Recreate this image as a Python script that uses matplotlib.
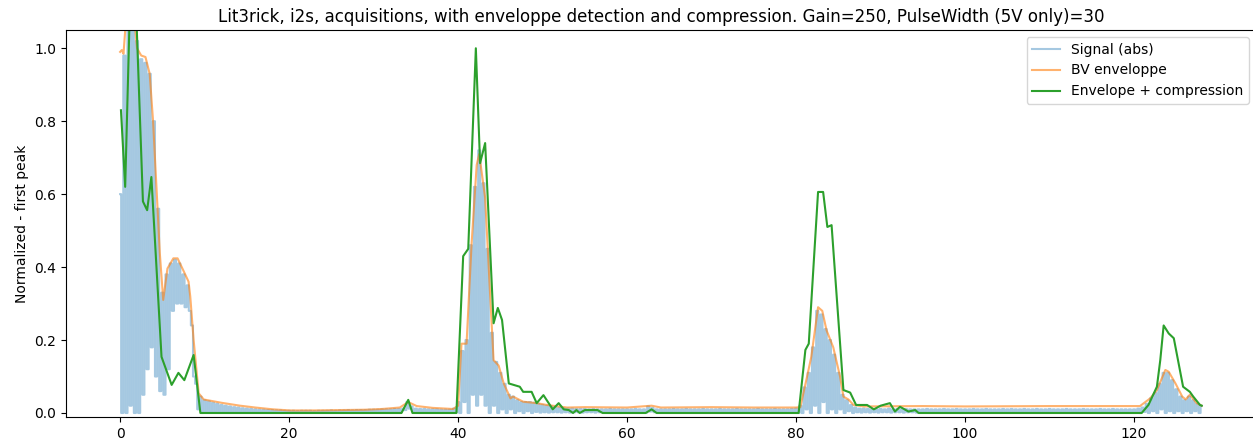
import numpy as np
import matplotlib
matplotlib.use("Agg")
import matplotlib.pyplot as plt

# raw signal, read as upper samples (x = 0, 0.5, ... 128)
sig_hi = [
    0.60, 0.98, 1.10, 1.10, 1.02, 0.97, 0.96, 0.93, 0.80, 0.56,
    0.33, 0.38, 0.41, 0.42, 0.41, 0.38, 0.35, 0.24, 0.08, 0.045,
    0.035, 0.032, 0.028, 0.025, 0.022, 0.020, 0.018, 0.016, 0.015, 0.013,
    0.012, 0.011, 0.010, 0.009, 0.009, 0.008, 0.008, 0.007, 0.007, 0.006,
    0.006, 0.006, 0.005, 0.006, 0.006, 0.006, 0.005, 0.006, 0.006, 0.006,
    0.007, 0.006, 0.007, 0.007, 0.008, 0.007, 0.008, 0.008, 0.008, 0.009,
    0.009, 0.009, 0.010, 0.010, 0.010, 0.011, 0.011, 0.012, 0.030, 0.018,
    0.012, 0.011, 0.011, 0.010, 0.010, 0.010, 0.009, 0.009, 0.009, 0.012,
    0.030, 0.170, 0.200, 0.460, 0.620, 0.720, 0.630, 0.450, 0.220, 0.140,
    0.110, 0.080, 0.050, 0.045, 0.035, 0.030, 0.030, 0.030, 0.028, 0.025,
    0.022, 0.020, 0.018, 0.016, 0.014, 0.013, 0.012, 0.012, 0.011, 0.011,
    0.011, 0.010, 0.011, 0.010, 0.010, 0.010, 0.011, 0.010, 0.010, 0.010,
    0.010, 0.010, 0.011, 0.010, 0.010, 0.018, 0.014, 0.010, 0.010, 0.010,
    0.010, 0.011, 0.010, 0.010, 0.011, 0.010, 0.010, 0.010, 0.011, 0.010,
    0.010, 0.010, 0.011, 0.010, 0.010, 0.010, 0.011, 0.010, 0.010, 0.010,
    0.010, 0.011, 0.010, 0.010, 0.010, 0.011, 0.010, 0.010, 0.010, 0.011,
    0.012, 0.020, 0.070, 0.110, 0.180, 0.280, 0.270, 0.230, 0.200, 0.160,
    0.110, 0.050, 0.035, 0.022, 0.015, 0.012, 0.012, 0.011, 0.010, 0.010,
    0.011, 0.010, 0.012, 0.010, 0.011, 0.010, 0.011, 0.010, 0.010, 0.010,
    0.010, 0.011, 0.010, 0.010, 0.010, 0.011, 0.010, 0.010, 0.011, 0.010,
    0.010, 0.010, 0.011, 0.010, 0.010, 0.011, 0.010, 0.010, 0.010, 0.011,
    0.010, 0.011, 0.010, 0.010, 0.011, 0.010, 0.010, 0.011, 0.010, 0.010,
    0.011, 0.010, 0.010, 0.010, 0.011, 0.010, 0.010, 0.010, 0.011, 0.010,
    0.010, 0.010, 0.011, 0.010, 0.010, 0.011, 0.010, 0.010, 0.010, 0.010,
    0.010, 0.012, 0.015, 0.025, 0.040, 0.055, 0.080, 0.110, 0.110, 0.090,
    0.065, 0.045, 0.035, 0.045, 0.035, 0.025, 0.020,
]
# lower samples in between (x = 0.25, 0.75, ... 127.75)
sig_lo = [
    0.00, 0.00, 0.02, 0.00, 0.00, 0.05, 0.12, 0.18, 0.10, 0.06,
    0.05, 0.12, 0.28, 0.30, 0.30, 0.29, 0.28, 0.10, 0.01, 0.00,
    0.002, 0.003, 0.002, 0.002, 0.003, 0.002, 0.002, 0.002, 0.002, 0.002,
    0.002, 0.001, 0.002, 0.002, 0.001, 0.002, 0.002, 0.001, 0.002, 0.002,
    0.001, 0.002, 0.001, 0.002, 0.002, 0.001, 0.002, 0.001, 0.002, 0.002,
    0.002, 0.001, 0.002, 0.002, 0.001, 0.002, 0.002, 0.002, 0.001, 0.002,
    0.002, 0.002, 0.002, 0.002, 0.002, 0.003, 0.003, 0.008, 0.012, 0.004,
    0.003, 0.002, 0.003, 0.002, 0.002, 0.003, 0.002, 0.002, 0.002, 0.002,
    0.00, 0.03, 0.00, 0.05, 0.02, 0.05, 0.02, 0.00, 0.02, 0.00,
    0.01, 0.00, 0.01, 0.00, 0.005, 0.00, 0.005, 0.00, 0.003, 0.001,
    0.002, 0.001, 0.002, 0.002, 0.001, 0.002, 0.001, 0.002, 0.002, 0.001,
    0.002, 0.002, 0.001, 0.002, 0.002, 0.001, 0.002, 0.002, 0.001, 0.002,
    0.002, 0.001, 0.002, 0.002, 0.001, 0.004, 0.002, 0.002, 0.001, 0.002,
    0.002, 0.001, 0.002, 0.002, 0.001, 0.002, 0.002, 0.001, 0.002, 0.002,
    0.001, 0.002, 0.002, 0.001, 0.002, 0.002, 0.001, 0.002, 0.002, 0.001,
    0.002, 0.002, 0.001, 0.002, 0.002, 0.001, 0.002, 0.002, 0.001, 0.002,
    0.00, 0.00, 0.01, 0.00, 0.02, 0.00, 0.03, 0.00, 0.01, 0.00,
    0.01, 0.00, 0.005, 0.00, 0.002, 0.001, 0.002, 0.001, 0.002, 0.001,
    0.002, 0.002, 0.001, 0.002, 0.002, 0.001, 0.002, 0.002, 0.001, 0.002,
    0.002, 0.001, 0.002, 0.002, 0.001, 0.002, 0.002, 0.001, 0.002, 0.002,
    0.001, 0.002, 0.002, 0.001, 0.002, 0.002, 0.001, 0.002, 0.002, 0.001,
    0.002, 0.002, 0.001, 0.002, 0.002, 0.001, 0.002, 0.002, 0.001, 0.002,
    0.002, 0.001, 0.002, 0.002, 0.001, 0.002, 0.002, 0.001, 0.002, 0.002,
    0.001, 0.002, 0.002, 0.001, 0.002, 0.002, 0.001, 0.002, 0.002, 0.001,
    0.001, 0.000, 0.003, 0.000, 0.005, 0.000, 0.010, 0.000, 0.005, 0.000,
    0.005, 0.000, 0.005, 0.000, 0.005, 0.000,
]

env_x = [0, 0.2, 0.4, 0.7, 1.2, 1.6, 2.0, 2.5, 3.0, 3.5, 3.9, 4.3, 4.7, 5.1,
         5.6, 6.3, 6.8, 7.5, 8.1, 8.3, 8.7, 9.3, 9.9, 12, 14.2, 16, 18.1, 20.1,
         23, 26, 29, 31, 33.1, 34.1, 35.1, 37, 39.4, 40.0, 40.4, 41.0, 41.6,
         42.2, 42.5, 43.2, 43.8, 44.2, 44.8, 45.4, 46.2, 46.5, 47.7, 49.3,
         50.5, 52.9, 55, 60, 62.9, 64, 70, 75, 80, 80.5, 81.3, 81.8, 82.6,
         83.1, 83.6, 84.4, 85.2, 85.6, 86.2, 86.8, 88, 95, 100, 110, 120.7,
         121.9, 122.7, 123.7, 124.1, 124.9, 125.7, 126.1, 126.6, 127.4, 128]
env_y = [0.99, 0.995, 0.985, 1.08, 1.12, 1.1, 1.0, 0.98, 0.976, 0.93, 0.80,
         0.62, 0.438, 0.31, 0.396, 0.424, 0.424, 0.39, 0.36, 0.32, 0.2, 0.054,
         0.037, 0.028, 0.02, 0.015, 0.01, 0.007, 0.007, 0.008, 0.009, 0.011,
         0.015, 0.03, 0.019, 0.014, 0.011, 0.02, 0.19, 0.19, 0.465, 0.68,
         0.71, 0.59, 0.32, 0.145, 0.13, 0.081, 0.04, 0.045, 0.031, 0.027,
         0.022, 0.015, 0.016, 0.015, 0.02, 0.015, 0.016, 0.015, 0.015, 0.016,
         0.1, 0.154, 0.29, 0.28, 0.227, 0.18, 0.1, 0.045, 0.037, 0.022, 0.018,
         0.019, 0.018, 0.019, 0.019, 0.04, 0.063, 0.118, 0.113, 0.081, 0.045,
         0.037, 0.05, 0.027, 0.02]

cmp_x = [0.1, 0.6, 1.2, 1.9, 2.7, 3.2, 3.7, 4.9, 6.1, 6.9, 7.6, 8.7, 9.5,
         33.3, 34.1, 34.6, 39.8, 40.6, 41.2, 42.1, 42.6, 43.2, 44.2, 44.7,
         45.2, 46.0, 47.3, 47.7, 48.7, 49.3, 50.1, 51.2, 51.9, 52.5, 53.1,
         53.6, 54.0, 54.4, 55.0, 56.5, 57.1, 62.2, 62.9, 63.5, 80.3, 81.1,
         81.5, 82.6, 83.2, 83.7, 84.2, 85.6, 86.4, 87.1, 88.4, 89.2, 90.0,
         91.1, 91.7, 92.3, 93.3, 94.1, 94.5, 120.9, 121.7, 122.7, 123.1,
         123.5, 124.1, 124.7, 125.8, 126.6, 127.0, 127.8, 128]
cmp_y = [0.83, 0.62, 1.15, 1.1, 0.58, 0.556, 0.647, 0.154, 0.077, 0.11, 0.09,
         0.159, 0.0, 0.0, 0.036, 0.0, 0.0, 0.43, 0.45, 1.0, 0.685, 0.74,
         0.246, 0.288, 0.255, 0.081, 0.072, 0.058, 0.058, 0.027, 0.049, 0.01,
         0.027, 0.01, 0.008, 0.0, 0.008, 0.0, 0.008, 0.008, 0.0, 0.0, 0.01,
         0.0, 0.0, 0.173, 0.19, 0.606, 0.606, 0.51, 0.515, 0.063, 0.056,
         0.022, 0.022, 0.01, 0.02, 0.027, 0.004, 0.017, 0.004, 0.008, 0.0,
         0.0, 0.022, 0.072, 0.145, 0.24, 0.218, 0.205, 0.072, 0.058, 0.045,
         0.022, 0.02]

TITLE = ("Lit3rick, i2s, acquisitions, with enveloppe detection and "
         "compression. Gain=250, PulseWidth (5V only)=30")


def build_signal():
    assert len(sig_hi) == len(sig_lo) + 1
    t_hi = np.arange(len(sig_hi)) * 0.5
    t_lo = t_hi[:-1] + 0.25
    t = np.empty(len(t_hi) + len(t_lo))
    v = np.empty_like(t)
    t[0::2], t[1::2] = t_hi, t_lo
    v[0::2], v[1::2] = sig_hi, sig_lo
    return t, v


def draw_plot():
    assert len(env_x) == len(env_y) and len(cmp_x) == len(cmp_y)
    t, v = build_signal()
    fig = plt.figure(figsize=(12.53, 4.44), dpi=100)
    ax = fig.add_axes([0.0527, 0.0608, 0.9495, 0.8716])
    # steps so the dense signal reads as a filled band, like the scope trace
    ax.plot(t, v, color="tab:blue", alpha=0.4, lw=1.5, drawstyle="steps-mid",
            label="Signal (abs)")
    ax.plot(env_x, env_y, color="tab:orange", alpha=0.6, lw=1.5,
            label="BV enveloppe")
    ax.plot(cmp_x, cmp_y, color="tab:green", lw=1.5,
            label="Envelope + compression")
    ax.set_xlim(-6.4, 134.4)
    ax.set_ylim(-0.011, 1.05)
    ax.set_title(TITLE)
    ax.set_ylabel("Normalized - first peak")
    ax.legend(loc="upper right")
    fig.savefig("out.png", dpi=100)


if __name__ == "__main__":
    draw_plot()
